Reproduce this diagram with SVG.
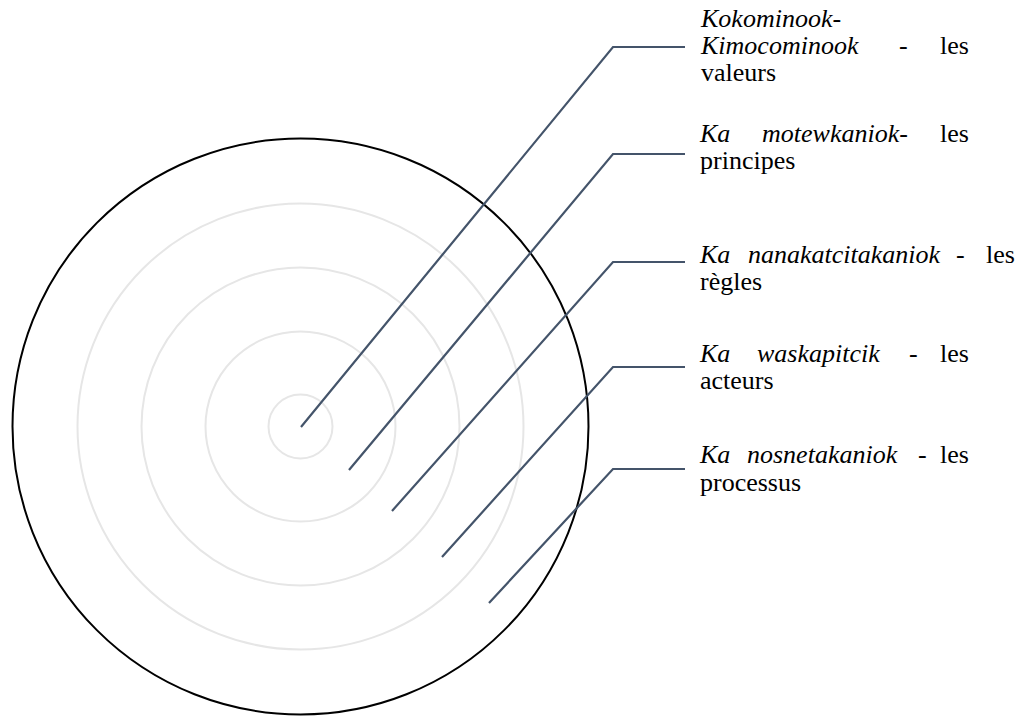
<svg xmlns="http://www.w3.org/2000/svg" width="1020" height="717" viewBox="0 0 1020 717">
<style>
.ring{fill:none;stroke:#e6e6e6;stroke-width:2}
.outer{fill:none;stroke:#000;stroke-width:2}
.conn{fill:none;stroke:#44546a;stroke-width:2.2;stroke-linejoin:miter}
.lbl text{font-size:26px;fill:#000}
.it{font-style:italic}
.r{text-anchor:end}
</style>
<rect width="1020" height="717" fill="#fff"/>
<g id="rings">
<circle class="ring" cx="300.5" cy="426.5" r="32"/>
<circle class="ring" cx="300.5" cy="426.5" r="95"/>
<circle class="ring" cx="300.5" cy="426.5" r="159"/>
<circle class="ring" cx="300.5" cy="426.5" r="223"/>
<circle class="outer" cx="300.5" cy="426.5" r="288"/>
</g>
<g id="connectors">
<polyline class="conn" points="301,427 613,47 685,47"/>
<polyline class="conn" points="349,470 613,154 685,154"/>
<polyline class="conn" points="392,511 613,262 685,262"/>
<polyline class="conn" points="442,557 613,367 685,367"/>
<polyline class="conn" points="489,603 613,469 685,469"/>
</g>
<g id="label-valeurs" class="lbl" font-family="Liberation Serif, Times New Roman, serif">
<text class="it" x="701" y="27">Kokominook-</text>
<text class="it" x="701" y="54">Kimocominook</text>
<text x="899" y="54">-</text>
<text class="r" x="969" y="54">les</text>
<text x="701" y="81">valeurs</text>
</g>
<g id="label-principes" class="lbl" font-family="Liberation Serif, Times New Roman, serif">
<text class="it" x="700" y="142">Ka</text>
<text class="it" x="762" y="142">motewkaniok-</text>
<text class="r" x="969" y="142">les</text>
<text x="700" y="169">principes</text>
</g>
<g id="label-regles" class="lbl" font-family="Liberation Serif, Times New Roman, serif">
<text class="it" x="700" y="263">Ka</text>
<text class="it" x="748" y="263">nanakatcitakaniok</text>
<text x="956" y="263">-</text>
<text class="r" x="1015" y="263">les</text>
<text x="700" y="290">règles</text>
</g>
<g id="label-acteurs" class="lbl" font-family="Liberation Serif, Times New Roman, serif">
<text class="it" x="700" y="362">Ka</text>
<text class="it" x="757" y="362">waskapitcik</text>
<text x="909" y="362">-</text>
<text class="r" x="969" y="362">les</text>
<text x="700" y="389">acteurs</text>
</g>
<g id="label-processus" class="lbl" font-family="Liberation Serif, Times New Roman, serif">
<text class="it" x="700" y="463">Ka</text>
<text class="it" x="747" y="463">nosnetakaniok</text>
<text x="918" y="463">-</text>
<text class="r" x="969" y="463">les</text>
<text x="700" y="491">processus</text>
</g>
</svg>
